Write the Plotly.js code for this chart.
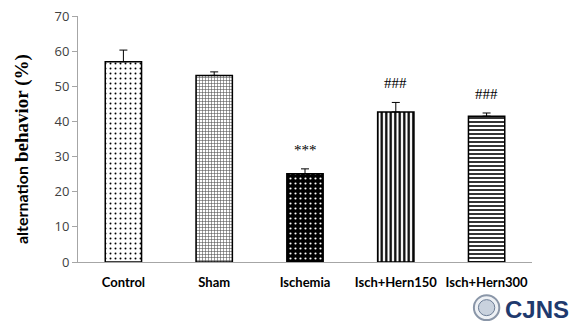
<!DOCTYPE html>
<html>
<head>
<meta charset="utf-8">
<script src="https://cdn.plot.ly/plotly-3.0.1.min.js"></script>
<style>html,body{margin:0;padding:0;background:#fff;}#chart{width:569px;height:327px;}</style>
</head>
<body>
<div id="chart"></div>
<script>
const categories = ["Control", "Sham", "Ischemia", "Isch+Hern150", "Isch+Hern300"];
const means = [57.0, 53.1, 25.1, 42.7, 41.5];
const errors = [3.3, 1.0, 1.4, 2.7, 0.9];
const significance = ["", "", "***", "###", "###"];
const yTicks = [0, 10, 20, 30, 40, 50, 60, 70];

const patternShapes = [".", "+", ".", "|", "-"];
const patternBg = ["#ffffff", "#ffffff", "#000000", "#ffffff", "#ffffff"];
const patternFg = ["#000000", "#555555", "#ffffff", "#000000", "#000000"];
const patternSize = [5, 3, 5, 4.5, 4];
const patternSolid = [0.12, 0.35, 0.15, 0.5, 0.4];

const traces = categories.map((c, i) => ({
  type: "bar",
  x: [c],
  y: [means[i]],
  width: 0.4,
  error_y: {type: "data", array: [errors[i]], arrayminus: [0], symmetric: false, visible: true, color: "#000", thickness: 1, width: 4},
  marker: {
    color: patternBg[i],
    line: {color: "#000", width: 1.5},
    pattern: {shape: patternShapes[i], bgcolor: patternBg[i], fgcolor: patternFg[i], size: patternSize[i], solidity: patternSolid[i], fillmode: "replace"}
  },
  hoverinfo: "none"
}));

const annotations = categories.map((c, i) => ({
  x: c, y: means[i] + errors[i], yshift: 9, text: significance[i], showarrow: false,
  xanchor: "center", yanchor: "bottom",
  font: {family: "Liberation Serif, Times New Roman, serif", size: 15, color: "#000"}
})).filter(a => a.text);

annotations.push({
  xref: "paper", yref: "paper", x: 1.085, y: -0.13, xanchor: "right", yanchor: "top",
  text: "<b>CJNS</b>", showarrow: false,
  font: {family: "Liberation Sans, Arial, sans-serif", size: 24, color: "#1f3a6e"}
});

annotations.push({
  xref: "paper", yref: "paper", x: -0.123, y: 0.46, xanchor: "center", yanchor: "middle",
  textangle: -90, showarrow: false,
  text: "<b><span style='font-family:Lato,Open Sans,sans-serif;font-size:16px'>alternation </span><span style='font-family:Liberation Serif,Times New Roman,serif;font-size:19px'>behavior (%)</span></b>",
  font: {family: "Lato, Open Sans, sans-serif", size: 16, color: "#000"}
});

const layout = {
  width: 569, height: 327,
  margin: {l: 78, r: 37, t: 16, b: 65},
  paper_bgcolor: "#fff", plot_bgcolor: "#fff",
  showlegend: false,
  barmode: "overlay",
  xaxis: {
    type: "category", categoryarray: categories, categoryorder: "array",
    showline: true, linecolor: "#a6a6a6", linewidth: 1,
    ticks: "", showgrid: false, zeroline: false,
    tickfont: {family: "Lato, Open Sans, sans-serif", size: 13, color: "#000", weight: "bold"},
    ticklabelstandoff: 8
  },
  yaxis: {
    range: [0, 70], tickvals: yTicks, showline: true, linecolor: "#a6a6a6", linewidth: 1,
    ticks: "outside", ticklen: 5, tickcolor: "#a6a6a6", showgrid: false, zeroline: false,
    tickfont: {family: "Open Sans, Liberation Sans, sans-serif", size: 13, color: "#404040"}
  },
  annotations: annotations,
  shapes: [
    {type: "circle", xref: "paper", yref: "paper", x0: 0.872, x1: 0.928, y0: -0.236, y1: -0.135,
     line: {color: "#8a96a8", width: 2}, fillcolor: "#eef1f5"},
    {type: "circle", xref: "paper", yref: "paper", x0: 0.882, x1: 0.918, y0: -0.218, y1: -0.153,
     line: {color: "#6b7c95", width: 1}, fillcolor: "#c9d2de"}
  ]
};

Plotly.newPlot("chart", traces, layout, {staticPlot: true, displayModeBar: false});
</script>
</body>
</html>
